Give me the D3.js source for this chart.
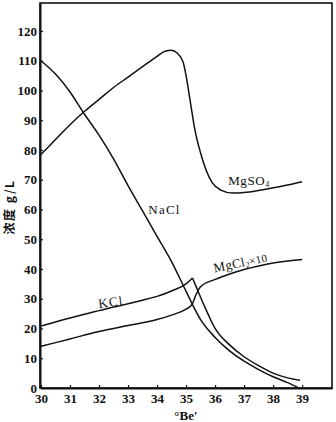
<!DOCTYPE html>
<html>
<head>
<meta charset="utf-8">
<script src="https://cdn.jsdelivr.net/npm/d3@7"></script>
<style>
  body { margin: 0; background: #fff; }
  .chart text { font-family: "Liberation Serif", "DejaVu Serif", serif; fill: #111; }
  .axis text { font-size: 13px; font-weight: bold; }
  .curve { fill: none; stroke: #111; stroke-width: 1.5; }
</style>
</head>
<body>
<div class="chart"></div>
<script>
var svgWidth = 336;
var svgHeight = 422;

var margin = { top: 3, right: 4, bottom: 34, left: 40 };

var width = svgWidth - margin.left - margin.right;
var height = svgHeight - margin.top - margin.bottom;

// tick labels
var xTicks = [30, 31, 32, 33, 34, 35, 36, 37, 38, 39];
var yTicks = [0, 10, 20, 30, 40, 50, 60, 70, 80, 90, 100, 110, 120];

// concentrations, [°Be', g/L]
var naclData = [[30, 110], [30.5, 105.5], [31, 99.5], [31.5, 92], [32, 85], [32.5, 77], [33, 68],
  [33.5, 59.5], [34, 51], [34.5, 42.5], [35, 32.5], [35.5, 23], [36, 17], [36.5, 12.5],
  [37, 9], [37.5, 6.2], [38, 3.8], [38.5, 1.8], [38.85, 0.2]];

var mgso4Data = [[30, 78.5], [30.5, 83.5], [31, 88.5], [31.5, 93], [32, 97], [32.5, 101], [33, 104.5],
  [33.5, 108], [34, 111.5], [34.3, 113.3], [34.5, 113.5], [34.7, 112.5], [34.9, 109.5], [35, 105],
  [35.15, 96], [35.3, 87], [35.5, 79], [35.7, 73], [35.9, 69], [36.2, 66.5], [36.6, 65.5],
  [37, 65.7], [37.5, 66.4], [38, 67.3], [38.5, 68.2], [39, 69.3]];

// KCl rises to a sharp peak and then falls, so it is kept as two pieces
var kclRise = [[30, 20.8], [30.5, 22.2], [31, 23.5], [31.5, 24.8], [32, 26], [32.5, 27.2], [33, 28.3],
  [33.5, 29.5], [34, 30.8], [34.5, 32.6], [35, 35], [35.22, 37]];
var kclFall = [[35.22, 37], [35.35, 34], [35.5, 30.5], [35.75, 25], [36, 20], [36.5, 14.5],
  [37, 10.5], [37.5, 7.5], [38, 5], [38.5, 3.4], [38.93, 2.6]];

var mgcl2Data = [[30, 14], [31, 16.5], [32, 19], [33, 21], [34, 23], [34.5, 24.5], [35, 26.5],
  [35.2, 28], [35.35, 31.5], [35.5, 34], [36, 36.5], [36.5, 38.3], [37, 39.8], [37.5, 41],
  [38, 42], [38.5, 42.7], [39, 43.2]];

var svg = d3
  .select('.chart')
  .append('svg')
  .attr('width', svgWidth)
  .attr('height', svgHeight);

var chart = svg.append('g')
  .attr('transform', 'translate(' + margin.left + ',' + margin.top + ')');

var xLinearScale = d3.scaleLinear().domain([30, 40.03]).range([1, width]);
var yLinearScale = d3.scaleLinear().domain([0, 129.4]).range([height, 0]);

var bottomAxis = d3.axisBottom(xLinearScale).tickValues(xTicks)
  .tickSizeInner(-3).tickSizeOuter(0).tickPadding(6);
var leftAxis = d3.axisLeft(yLinearScale).tickValues(yTicks)
  .tickSizeInner(-3).tickSizeOuter(0).tickPadding(3);

// frame
chart.append('rect')
  .attr('x', 0)
  .attr('y', 0)
  .attr('width', width)
  .attr('height', height)
  .attr('fill', 'none')
  .attr('stroke', '#111')
  .attr('stroke-width', 1.6);

chart.append('g')
  .attr('class', 'axis')
  .attr('transform', 'translate(0,' + height + ')')
  .call(bottomAxis);

chart.append('g')
  .attr('class', 'axis')
  .call(leftAxis);

chart.selectAll('.axis .domain').attr('stroke', '#111').attr('stroke-width', 2);
chart.selectAll('.axis .tick line').attr('stroke', '#111').attr('stroke-width', 1.2);

var line = d3.line()
  .x(function(d) { return xLinearScale(d[0]); })
  .y(function(d) { return yLinearScale(d[1]); })
  .curve(d3.curveMonotoneX);

var series = [naclData, mgso4Data, kclRise, kclFall, mgcl2Data];

chart.selectAll('path.curve')
  .data(series)
  .enter()
  .append('path')
  .attr('class', 'curve')
  .attr('d', line);

// curve labels
chart.append('text')
  .attr('x', xLinearScale(33.7))
  .attr('y', yLinearScale(58.5))
  .attr('font-size', 13)
  .attr('letter-spacing', 1.2)
  .text('NaCl');

var mg = chart.append('text')
  .attr('x', xLinearScale(36.45))
  .attr('y', yLinearScale(68.3))
  .attr('font-size', 13)
  .attr('letter-spacing', 0.6);
mg.append('tspan').text('MgSO');
mg.append('tspan').attr('font-size', 8).attr('dy', 2).text('4');

chart.append('text')
  .attr('transform', 'translate(' + xLinearScale(32.0) + ',' + yLinearScale(26.8) + ') rotate(-8)')
  .attr('font-size', 13)
  .attr('letter-spacing', 1.2)
  .text('KCl');

var mc = chart.append('text')
  .attr('transform', 'translate(' + xLinearScale(35.98) + ',' + yLinearScale(38.8) + ') rotate(-12)')
  .attr('font-size', 13)
  .attr('letter-spacing', 0.4);
mc.append('tspan').text('MgCl');
mc.append('tspan').attr('font-size', 8).attr('dy', 2).text('2');
mc.append('tspan').attr('dy', -2).attr('font-size', 11).text('×10');

// axis titles
svg.append('text')
  .attr('transform', 'translate(14,207) rotate(-90)')
  .attr('text-anchor', 'middle')
  .attr('font-size', 12)
  .attr('font-weight', 'bold')
  .attr('letter-spacing', 1.5)
  .style('font-family', '"Noto Sans CJK SC", "Liberation Serif", serif')
  .text('浓度 g/L');

svg.append('text')
  .attr('x', 186)
  .attr('y', 420)
  .attr('text-anchor', 'middle')
  .attr('font-size', 13)
  .attr('font-weight', 'bold')
  .text('°Be′');
</script>
</body>
</html>
